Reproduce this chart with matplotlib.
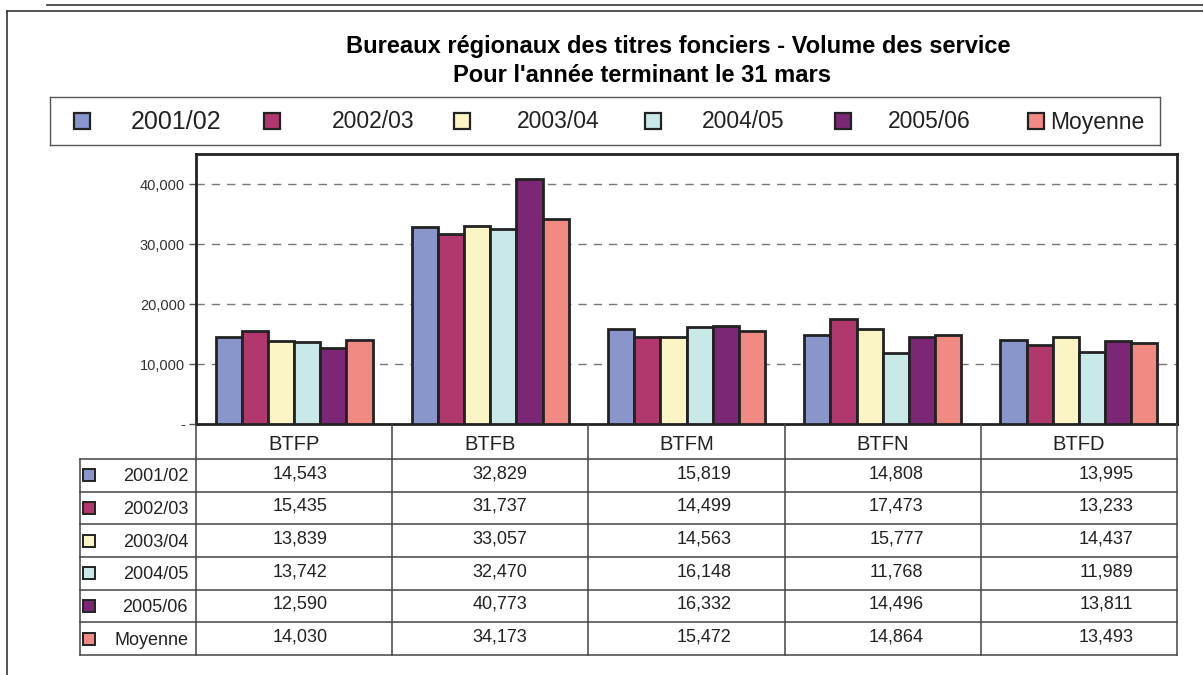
import numpy as np
import matplotlib.pyplot as plt
from matplotlib.patches import Rectangle
from matplotlib.lines import Line2D

plt.rcParams['font.family'] = ['Liberation Sans', 'DejaVu Sans']

# Step 1: data
categories = ['BTFP', 'BTFB', 'BTFM', 'BTFN', 'BTFD']
series_names = ['2001/02', '2002/03', '2003/04', '2004/05', '2005/06', 'Moyenne']
v2001 = [14543, 32829, 15819, 14808, 13995]
v2002 = [15435, 31737, 14499, 17473, 13233]
v2003 = [13839, 33057, 14563, 15777, 14437]
v2004 = [13742, 32470, 16148, 11768, 11989]
v2005 = [12590, 40773, 16332, 14496, 13811]
moyenne = [14030, 34173, 15472, 14864, 13493]
y_ticks = [0, 10000, 20000, 30000, 40000]

series = [v2001, v2002, v2003, v2004, v2005, moyenne]
colors = ['#8896CC', '#B0386C', '#FBF5C6', '#C9E8E8', '#7B2775', '#F28A84']
edge = '#222222'

W, H = 1203, 675
fig = plt.figure(figsize=(W / 100, H / 100), dpi=100)


def fx(px):
    return px / W


def fy(py):
    return 1 - py / H


# outer frame lines
fig.add_artist(Line2D([fx(47), 1], [fy(5), fy(5)], color='#333333', lw=1.2))
fig.add_artist(Line2D([fx(7), 1], [fy(10.5), fy(10.5)], color='#333333', lw=1.2))
fig.add_artist(Line2D([fx(7), fx(7)], [fy(10.5), 0], color='#333333', lw=1.2))

# titles
fig.text(fx(678), fy(47), 'Bureaux régionaux des titres fonciers - Volume des service',
         ha='center', va='center', fontsize=17, fontweight='bold')
fig.text(fx(642), fy(76), "Pour l'année terminant le 31 mars",
         ha='center', va='center', fontsize=17, fontweight='bold')

# Step 2: bar chart
left, right, top, bottom = 196, 1177, 154, 424
ax = fig.add_axes([fx(left), fy(bottom), fx(right - left), (bottom - top) / H])
x = np.arange(len(categories))
n = len(series)
w = 0.8 / n
for i, vals in enumerate(series):
    ax.bar(x - 0.4 + w * (i + 0.5), vals, width=w, color=colors[i],
           edgecolor=edge, linewidth=2, zorder=3)

ax.set_xlim(-0.5, len(categories) - 0.5)
ax.set_ylim(0, 45000)
ax.set_yticks(y_ticks)
ax.set_yticklabels(['-'] + [f'{t:,}' for t in y_ticks[1:]], fontsize=10.5, color='#333333')
ax.set_xticks([])
ax.tick_params(axis='y', length=5, width=1, color='#555555', pad=3)
for yt in y_ticks[1:]:
    ax.axhline(yt, color='#777777', lw=1, ls=(0, (6, 5)), zorder=1)
for s in ax.spines.values():
    s.set_linewidth(2)
    s.set_color('#222222')

# Step 3: legend box
lax = fig.add_axes([fx(50), fy(145), fx(1160 - 50), (145 - 97) / H])
lax.set_xlim(50, 1160)
lax.set_ylim(145, 97)
lax.set_xticks([])
lax.set_yticks([])
for s in lax.spines.values():
    s.set_linewidth(1)
    s.set_color('#555555')
sq_left = [74, 264, 454, 645, 835, 1028]
txt_left = [131, 332, 517, 702, 888, 1050]
txt_size = [18, 16.5, 16.5, 16.5, 16.5, 16.5]
for i, name in enumerate(series_names):
    lax.add_patch(Rectangle((sq_left[i], 113), 16, 16, facecolor=colors[i],
                            edgecolor=edge, lw=1.6))
    lax.text(txt_left[i], 122, name, fontsize=txt_size[i], va='center', ha='left',
             color='#222222')

# Step 4: data table under the chart
tleft, tbottom = 80, 655
tax = fig.add_axes([fx(tleft), fy(tbottom), fx(right - tleft), (tbottom - bottom) / H])
unit = (right - left) / len(categories)
xmin = -0.5 - (left - tleft) / unit
header_h = 35 / 32.7
nrows = len(series)
tax.set_xlim(xmin, len(categories) - 0.5)
tax.set_ylim(header_h + nrows, 0)
tax.axis('off')

line_c = '#444444'
# vertical lines
for j in range(len(categories) + 1):
    tax.plot([j - 0.5, j - 0.5], [0, header_h + nrows], color=line_c, lw=1.1, clip_on=False)
tax.plot([xmin, xmin], [header_h, header_h + nrows], color=line_c, lw=1.1, clip_on=False)
# horizontal lines
for r in range(nrows + 1):
    tax.plot([xmin, len(categories) - 0.5], [header_h + r, header_h + r], color=line_c,
             lw=1.1, clip_on=False)

# header
for j, cat in enumerate(categories):
    tax.text(j, header_h / 2 + 0.08, cat, ha='center', va='center', fontsize=14.5,
             color='#222222')

val_offset = [0.03, 0.05, 0.09, 0.07, 0.14]
for r, vals in enumerate(series):
    yc = header_h + r + 0.5
    tax.add_patch(Rectangle((xmin + 3 / unit, yc - 6 / 32.7), 12 / unit, 12 / 32.7,
                            facecolor=colors[r], edgecolor=edge, lw=1.4))
    tax.text(-0.5 - 8 / unit, yc + 0.05, series_names[r], ha='right', va='center',
             fontsize=13, color='#222222')
    for j, v in enumerate(vals):
        tax.text(j + val_offset[j], yc - 0.05, f'{v:,}', ha='center', va='center',
                 fontsize=13, color='#222222')

fig.savefig('out.png', dpi=100)
